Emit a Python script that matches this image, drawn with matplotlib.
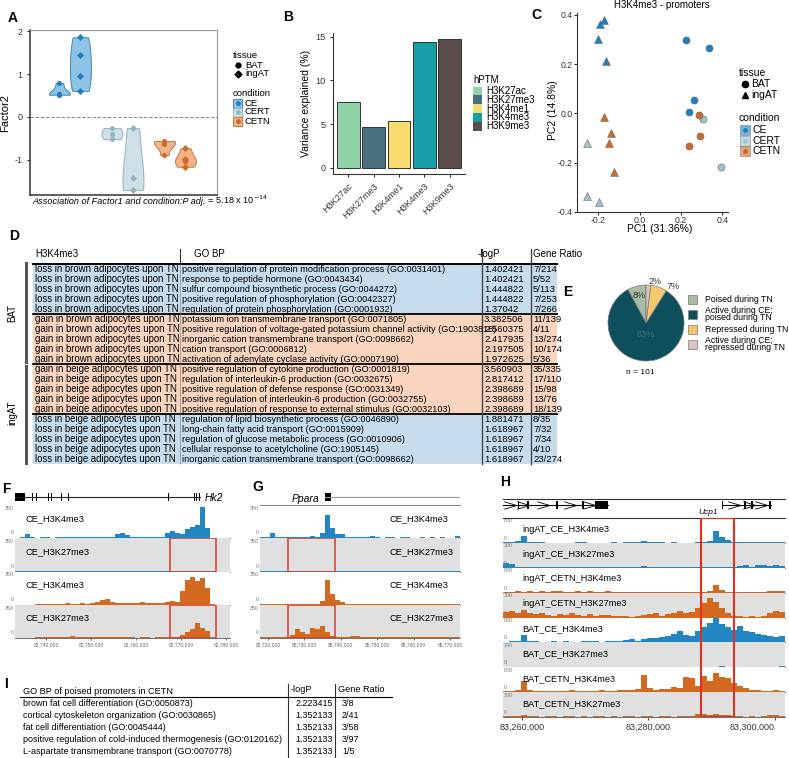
import numpy as np
import matplotlib
matplotlib.use("Agg")
import matplotlib.pyplot as plt
import matplotlib.transforms as mtransforms
from matplotlib.patches import Rectangle
from matplotlib.lines import Line2D

plt.rcParams['font.family'] = ['Liberation Sans', 'DejaVu Sans']
plt.rcParams['axes.unicode_minus'] = False

# ---------------- data ----------------
# A: Factor2 values per tissue / condition
f2_ce_bat = [0.79, 0.54, 0.52, 0.54]
f2_ce_ing = [1.86, 1.45, 0.96, 0.61]
f2_cert_bat = [-0.26, -0.39, -0.52]
f2_cert_ing = [-0.26, -1.43, -1.70]
f2_cetn_bat = [-0.56, -0.60, -0.63, -0.89]
f2_cetn_ing = [-0.73, -0.99, -1.02, -1.16]

# B: variance explained per histone mark
hptm = ['H3K27ac', 'H3K27me3', 'H3K4me1', 'H3K4me3', 'H3K9me3']
var_explained = [7.5, 4.7, 5.3, 14.4, 14.7]
hptm_colors = ['#8fd3a6', '#4b7080', '#f9dc6e', '#179fa7', '#5a4d4c']

# C: PCA of H3K4me3 promoters
pc1_bat_ce = [0.222, 0.334, 0.264, 0.238]
pc2_bat_ce = [0.299, 0.264, 0.054, 0.005]
pc1_bat_cert = [0.307, 0.395]
pc2_bat_cert = [-0.024, -0.220]
pc1_bat_cetn = [0.288, 0.291, 0.240]
pc2_bat_cetn = [-0.007, -0.093, -0.132]
pc1_ing_ce = [-0.175, -0.191, -0.200, -0.163]
pc2_ing_ce = [0.378, 0.365, 0.302, 0.211]
pc1_ing_cert = [-0.256, -0.256, -0.195]
pc2_ing_cert = [-0.120, -0.335, -0.360]
pc1_ing_cetn = [-0.172, -0.138, -0.151, -0.124]
pc2_ing_cetn = [-0.016, -0.079, -0.120, -0.238]

# D: GO table
d_direction = ['loss in brown adipocytes upon TN'] * 5 + ['gain in brown adipocytes upon TN'] * 5 \
    + ['gain in beige adipocytes upon TN'] * 5 + ['loss in beige adipocytes upon TN'] * 5
d_terms = [
    'positive regulation of protein modification process (GO:0031401)',
    'response to peptide hormone (GO:0043434)',
    'sulfur compound biosynthetic process (GO:0044272)',
    'positive regulation of phosphorylation (GO:0042327)',
    'regulation of protein phosphorylation (GO:0001932)',
    'potassium ion transmembrane transport (GO:0071805)',
    'positive regulation of voltage-gated potassium channel activity (GO:1903818)',
    'inorganic cation transmembrane transport (GO:0098662)',
    'cation transport (GO:0006812)',
    'activation of adenylate cyclase activity (GO:0007190)',
    'positive regulation of cytokine production (GO:0001819)',
    'regulation of interleukin-6 production (GO:0032675)',
    'positive regulation of defense response (GO:0031349)',
    'positive regulation of interleukin-6 production (GO:0032755)',
    'positive regulation of response to external stimulus (GO:0032103)',
    'regulation of lipid biosynthetic process (GO:0046890)',
    'long-chain fatty acid transport (GO:0015909)',
    'regulation of glucose metabolic process (GO:0010906)',
    'cellular response to acetylcholine (GO:1905145)',
    'inorganic cation transmembrane transport (GO:0098662)',
]
d_logp = [1.402421, 1.402421, 1.444822, 1.444822, 1.37042,
          3.382506, 2.560375, 2.417935, 2.197505, 1.972625,
          3.560903, 2.817412, 2.398689, 2.398689, 2.398689,
          1.881471, 1.618967, 1.618967, 1.618967, 1.618967]
d_ratio = ['7/214', '5/52', '5/113', '7/253', '7/266',
           '11/139', '4/11', '13/274', '10/174', '5/36',
           '35/335', '17/110', '15/98', '13/76', '18/139',
           '8/35', '7/32', '7/34', '4/10', '23/274']

# E: promoter states
e_labels = ['Poised during TN', 'Active during CE;\npoised during TN',
            'Repressed during TN', 'Active during CE;\nrepressed during TN']
e_counts = [8, 84, 7, 2]
e_colors = ['#a9bda5', '#0e4f5d', '#f6c86e', '#dcc2c2']

# F: Hk2 locus
f_lim = (82733000, 82780800)
f_ticks = [82740000, 82750000, 82760000, 82770000, 82780000]
f_gene = (82733000, 82774200)
f_exons = [(82733000, 82735200), (82735800, 82736000), (82736700, 82736900), (82737600, 82737800),
           (82738900, 82739100), (82740300, 82740500), (82741100, 82741300), (82743300, 82743500),
           (82743800, 82744000), (82744700, 82744900), (82749800, 82750000), (82760700, 82760900),
           (82767000, 82767200), (82772800, 82773100), (82773300, 82773500), (82773800, 82774200)]
f_box = (82767450, 82777670)
f_ce_k4 = [5, 8, 45, 10, 6, 8, 12, 6, 10, 8, 14, 10, 8, 12, 10, 15, 12, 18, 10, 12, 40, 55, 30, 12,
           10, 8, 10, 12, 15, 10, 60, 80, 55, 45, 95, 120, 140, 330, 110, 5, 0, 0, 0]
f_ce_k27 = [10, 6, 8, 5, 10, 6, 8, 5, 6, 8, 5, 6, 5, 8, 5, 6, 10, 5, 6, 5, 8, 5, 6, 5, 4, 6, 5, 4,
            6, 5, 4, 5, 6, 5, 4, 6, 5, 4, 5, 4, 0, 0, 0]
f_cetn_k4 = [0, 0, 0, 0, 10, 12, 8, 10, 12, 10, 15, 12, 10, 15, 12, 18, 30, 55, 60, 25, 20, 18, 22,
             20, 18, 25, 20, 18, 15, 20, 25, 35, 30, 150, 260, 290, 250, 280, 180, 10, 0, 0, 0]
f_cetn_k27 = [0, 0, 0, 0, 8, 10, 6, 12, 8, 10, 6, 25, 10, 8, 12, 6, 10, 8, 6, 8, 10, 6, 8, 6, 5, 8,
              6, 5, 8, 10, 8, 6, 10, 30, 60, 100, 160, 110, 70, 5, 0, 0, 0]

# G: Ppara locus
g_lim = (85717800, 85772750)
g_ticks = [85720000, 85730000, 85740000, 85750000, 85760000, 85770000]
g_ticklabels = ['82,720,000', '85,730,000', '85,740,000', '85,750,000', '85,760,000', '85,770,000']
g_gene = (85735660, 85772750)
g_exons = [(85735660, 85737300)]
g_box = (85725490, 85738400)
g_ce_k4 = [10, 15, 60, 10, 8, 12, 10, 15, 12, 10, 20, 15, 60, 250, 110, 50, 40, 15, 10, 12, 8, 10,
           20, 8, 6, 10, 8, 6, 15, 8, 6, 5, 8, 6, 10, 5, 18, 6, 5, 25]
g_ce_k27 = [6, 5, 6, 5, 4, 6, 5, 4, 6, 8, 5, 6, 5, 4, 6, 5, 4, 6, 5, 4, 6, 5, 4, 5, 6, 4, 5, 6, 4,
            5, 6, 4, 5, 6, 4, 5, 6, 4, 5, 4]
g_cetn_k4 = [8, 10, 6, 5, 6, 5, 8, 6, 5, 6, 8, 10, 40, 265, 110, 45, 30, 10, 6, 5, 4, 5, 6, 8, 5, 4,
             6, 5, 4, 6, 5, 4, 5, 6, 4, 5, 6, 4, 5, 4]
g_cetn_k27 = [10, 12, 8, 10, 6, 12, 30, 90, 60, 40, 110, 100, 130, 60, 20, 10, 8, 12, 25, 20, 15, 8,
              10, 6, 12, 8, 10, 6, 8, 10, 6, 8, 10, 6, 8, 6, 10, 6, 8, 6]

# H: Ucp1 locus
h_lim = (83257000, 83301580)
h_ticks = [83260000, 83280000, 83300000]
h_genes = [(83257000, 83273600), (83291550, 83299350)]
h_exons = [(83259300, 83259500), (83260850, 83261050), (83265450, 83265650), (83269550, 83269750),
           (83271550, 83273600), (83291550, 83291850), (83295150, 83295400), (83296250, 83296500),
           (83299050, 83299350)]
h_box = (83288300, 83293520)
h_names = ['ingAT_CE_H3K4me3', 'ingAT_CE_H3K27me3', 'ingAT_CETN_H3K4me3', 'ingAT_CETN_H3K27me3',
           'BAT_CE_H3K4me3', 'BAT_CE_H3K27me3', 'BAT_CETN_H3K4me3', 'BAT_CETN_H3K27me3']
h1 = [30, 20, 60, 230, 40, 20, 15, 10, 8, 10, 12, 8, 15, 20, 10, 8, 10, 12, 30, 10, 40, 20, 35, 50,
      40, 30, 20, 10, 15, 8, 10, 12, 20, 30, 60, 380, 200, 100, 40, 20, 30, 25, 15, 20, 35, 20, 15]
h2 = [60, 40, 10, 8, 6, 5, 8, 6, 5, 4, 6, 5, 8, 6, 5, 4, 6, 5, 4, 5, 6, 8, 15, 20, 10, 8, 5, 6, 4,
      5, 6, 5, 8, 6, 10, 12, 8, 6, 5, 25, 30, 10, 30, 35, 25, 30, 20]
h3 = [20, 30, 40, 20, 50, 30, 40, 30, 50, 40, 30, 35, 40, 30, 45, 30, 35, 40, 30, 25, 30, 20, 15, 10,
      20, 30, 15, 20, 25, 10, 15, 20, 10, 15, 40, 260, 80, 20, 10, 15, 10, 8, 10, 15, 40, 60, 40]
h4 = [70, 80, 60, 90, 50, 40, 60, 30, 20, 40, 30, 50, 25, 20, 40, 20, 30, 25, 20, 15, 20, 10, 15, 30,
      40, 50, 20, 40, 60, 80, 50, 70, 120, 180, 230, 190, 120, 50, 20, 15, 10, 15, 10, 20, 60, 80, 70]
h5 = [20, 30, 60, 250, 60, 30, 20, 25, 30, 20, 30, 25, 20, 30, 40, 30, 25, 30, 40, 60, 80, 100, 60,
      120, 150, 130, 180, 220, 280, 350, 250, 200, 350, 500, 620, 800, 580, 480, 400, 520, 380, 320,
      280, 230, 200, 160, 220]
h6 = [4, 3, 4, 3, 4, 3, 4, 3, 4, 3, 4, 3, 4, 3, 4, 3, 4, 3, 4, 3, 4, 3, 4, 3, 4, 3, 4, 3, 4, 3, 4, 3,
      4, 3, 8, 6, 10, 8, 6, 4, 3, 4, 3, 4, 3, 8, 15]
h7 = [30, 40, 80, 350, 60, 40, 50, 40, 30, 50, 40, 60, 40, 50, 30, 40, 60, 50, 40, 60, 80, 60, 100,
      550, 120, 80, 100, 90, 150, 120, 500, 450, 200, 520, 350, 600, 480, 450, 300, 200, 120, 80, 60,
      50, 40, 60, 50]
h8 = [10, 15, 8, 20, 10, 8, 6, 10, 8, 6, 8, 10, 6, 8, 6, 8, 10, 6, 8, 6, 8, 10, 6, 8, 10, 6, 8, 10,
      6, 8, 10, 12, 35, 40, 30, 35, 30, 25, 10, 8, 6, 8, 6, 10, 20, 30, 15]

# I: GO table of poised promoters
i_terms = ['brown fat cell differentiation (GO:0050873)',
           'cortical cytoskeleton organization (GO:0030865)',
           'fat cell differentiation (GO:0045444)',
           'positive regulation of cold-induced thermogenesis (GO:0120162)',
           'L-aspartate transmembrane transport (GO:0070778)']
i_logp = [2.223415, 1.352133, 1.352133, 1.352133, 1.352133]
i_ratio = ['3/8', '2/41', '3/58', '3/97', '1/5']

CE_C, CERT_C, CETN_C = '#1f80bf', '#a2c3ca', '#cd6a27'
BLUE, ORANGE, GREY_BG = '#2186c2', '#d2691e', '#e0e0e0'

# ---------------- helpers ----------------
W, H = 789, 758
fig = plt.figure(figsize=(W / 100, H / 100), dpi=100)
PX = mtransforms.Affine2D().scale(1 / W, -1 / H).translate(0, 1) + fig.transFigure


def px_axes(x0, y0, x1, y1):
    return fig.add_axes([x0 / W, 1 - y1 / H, (x1 - x0) / W, (y1 - y0) / H])


def ftext(x, y, s, **kw):
    kw.setdefault('va', 'center')
    return fig.text(x, y, s, transform=PX, **kw)


def fline(xs, ys, **kw):
    fig.add_artist(Line2D(xs, ys, transform=PX, **kw))


def fbox(x, y, w, h, **kw):
    fig.add_artist(Rectangle((x, y), w, h, transform=PX, **kw))


def fmark(x, y, **kw):
    fig.add_artist(Line2D([x], [y], transform=PX, ls='none', **kw))


def track(x0, y0, x1, y1, lim, vals, color, ymax, grey):
    ax = px_axes(x0, y0, x1, y1)
    edges = np.linspace(lim[0], lim[1], len(vals) + 1)
    ax.stairs(vals, edges, fill=True, color=color, lw=0)
    ax.set_xlim(lim)
    ax.set_ylim(0, ymax)
    ax.set_facecolor(GREY_BG if grey else 'white')
    ax.set_xticks([])
    ax.set_yticks([])
    for s in ['top', 'right', 'left']:
        ax.spines[s].set_visible(False)
    ax.spines['bottom'].set_color('#555')
    ax.spines['bottom'].set_linewidth(0.6)
    return ax


for lbl, x, y in [('A', 8, 18), ('B', 283, 17), ('C', 531, 15), ('D', 9, 236), ('E', 563, 292),
                  ('F', 2, 489), ('G', 252, 487), ('H', 500, 482), ('I', 4, 684)]:
    ftext(x, y, lbl, fontsize=10, fontweight='bold')

# ---------------- A ----------------
axA = px_axes(30, 30, 217, 195)
a_sets = [(f2_ce_bat, 0, 'o'), (f2_ce_ing, 0, 'D'), (f2_cert_bat, 1, 'o'),
          (f2_cert_ing, 1, 'D'), (f2_cetn_bat, 2, 'o'), (f2_cetn_ing, 2, 'D')]
v_face = ['#8dc3e6', '#cfe1e7', '#f3b48b']
v_edge = ['#4a86ad', '#8fb2bc', '#c27746']
p_col = [CE_C, '#92b4bc', CETN_C]
for vals, ci, mk in a_sets:
    pos = ci + 1 + (-0.2 if mk == 'o' else 0.2)
    parts = axA.violinplot([vals], positions=[pos], widths=0.4, showextrema=False)
    for b in parts['bodies']:
        b.set_facecolor(v_face[ci])
        b.set_edgecolor(v_edge[ci])
        b.set_linewidth(0.7)
        b.set_alpha(1)
    axA.scatter([pos] * len(vals), vals, marker=mk, s=13, color=p_col[ci], zorder=3, lw=0)
axA.axhline(0, ls='--', color='#888', lw=0.7)
axA.set_xlim(0.24, 3.8)
axA.set_ylim(-1.82, 2.03)
axA.set_xticks([])
axA.set_yticks([-1, 0, 1, 2])
axA.tick_params(axis='y', labelsize=6.5, labelcolor='#333', length=2, width=0.6)
axA.set_ylabel('Factor2', fontsize=8, labelpad=3)
for s in ['left', 'bottom']:
    axA.spines[s].set_color('#333')
    axA.spines[s].set_linewidth(1.1)
for s in ['top', 'right']:
    axA.spines[s].set_color('#999')
    axA.spines[s].set_linewidth(0.8)
cap = ftext(32, 204, 'Association of Factor1 and condition:P adj.', fontsize=6.6, style='italic',
            va='baseline')
axA.annotate(' = 5.18 x 10$^{-14}$', xy=(1, 0.22), xycoords=cap, va='baseline', fontsize=6.6,
             annotation_clip=False)

ftext(233, 55, 'tissue', fontsize=6.8)
for name, mk, y in [('BAT', 'o', 65), ('ingAT', 'D', 74)]:
    fmark(238, y, marker=mk, ms=3.5, color='black')
    ftext(245, y, name, fontsize=6.8)
ftext(233, 93, 'condition', fontsize=6.8)
for ci, (name, y) in enumerate([('CE', 103), ('CERT', 112), ('CETN', 121)]):
    fbox(233.5, y - 4.5, 9, 9, facecolor=v_face[ci], edgecolor=v_edge[ci], lw=0.7)
    fmark(238, y, marker='o', ms=2.5, color=p_col[ci])
    ftext(245, y, name, fontsize=6.8)

# ---------------- B ----------------
axB = px_axes(333, 33, 465, 174)
axB.bar(np.arange(len(hptm)), var_explained, width=0.9, color=hptm_colors, edgecolor='#333', lw=0.7)
axB.set_xlim(-0.6, len(hptm) - 0.4)
axB.set_ylim(-0.7, 15.4)
axB.set_yticks([0, 5, 10, 15])
axB.set_xticks(np.arange(len(hptm)))
axB.set_xticklabels(hptm, rotation=45, ha='right', rotation_mode='anchor')
axB.tick_params(labelsize=6.6, labelcolor='#333', length=2, width=0.6)
axB.spines[['top', 'right']].set_visible(False)
axB.spines[['left', 'bottom']].set_color('#333')
axB.set_ylabel('Variance explained (%)', fontsize=7.5, labelpad=3)
ftext(473, 80, 'hPTM', fontsize=7)
for k, (name, col) in enumerate(zip(hptm, hptm_colors)):
    y = 91 + 8.8 * k
    fbox(473, y - 4.4, 9, 8.8, facecolor=col, edgecolor='none')
    ftext(486, y, name, fontsize=7)

# ---------------- C ----------------
axC = px_axes(577, 13, 728, 212)
c_sets = [(pc1_bat_ce, pc2_bat_ce, 'o', CE_C), (pc1_bat_cert, pc2_bat_cert, 'o', CERT_C),
          (pc1_bat_cetn, pc2_bat_cetn, 'o', CETN_C), (pc1_ing_ce, pc2_ing_ce, '^', CE_C),
          (pc1_ing_cert, pc2_ing_cert, '^', CERT_C), (pc1_ing_cetn, pc2_ing_cetn, '^', CETN_C)]
for xs, ys, mk, col in c_sets:
    axC.scatter(xs, ys, marker=mk, s=32 if mk == '^' else 26, color=col, edgecolor='#666', lw=0.4,
                zorder=3)
axC.set_xlim(-0.304, 0.428)
axC.set_ylim(-0.401, 0.408)
axC.set_xticks([-0.2, 0.0, 0.2, 0.4])
axC.set_xticklabels(['-0.2', '0.0', '0.2', '0.4'])
axC.set_yticks([-0.4, -0.2, 0.0, 0.2, 0.4])
axC.set_yticklabels(['-0.4', '-0.2', '0.0', '0.2', '0.4'])
axC.tick_params(labelsize=6.3, labelcolor='#333', length=2, width=0.6, pad=1.2)
axC.spines[['top', 'right']].set_visible(False)
axC.spines[['left', 'bottom']].set_color('#333')
ftext(662, 5, 'H3K4me3 - promoters', fontsize=7, ha='center')
ftext(660, 229, 'PC1 (31.36%)', fontsize=7.5, ha='center')
ftext(553, 110, 'PC2 (14.8%)', fontsize=7.5, ha='center', rotation=90)
ftext(739, 73, 'tissue', fontsize=7.5)
for name, mk, y in [('BAT', 'o', 84), ('ingAT', '^', 95)]:
    fmark(745, y, marker=mk, ms=4.5, color='black')
    ftext(751, y, name, fontsize=7.5)
ftext(739, 118, 'condition', fontsize=7.5)
for name, col, y in [('CE', CE_C, 130), ('CERT', CERT_C, 141), ('CETN', CETN_C, 151)]:
    fbox(740.5, y - 5, 10, 10, facecolor=col, edgecolor='#777', lw=0.6, alpha=0.6)
    fmark(745.5, y, marker='o', ms=2.5, color=col)
    ftext(753, y, name, fontsize=7.5)

# ---------------- D ----------------
D_BLUE, D_ORANGE = '#c7ddee', '#f9d5bf'
ftext(35, 254, 'H3K4me3', fontsize=7)
ftext(194, 254, 'GO BP', fontsize=7)
ftext(478, 254, '-logP', fontsize=7)
ftext(533, 254, 'Gene Ratio', fontsize=7)
for i, (dr, term, lp, gr) in enumerate(zip(d_direction, d_terms, d_logp, d_ratio)):
    y = 269 + 10 * i
    fbox(33, y - 5, 524, 10, facecolor=D_BLUE if dr.startswith('loss') else D_ORANGE,
         edgecolor='none', zorder=0)
    ftext(35, y, dr, fontsize=6.9)
    ftext(182, y, term, fontsize=6.6)
    ftext(484, y, str(lp), fontsize=6.8)
    ftext(533, y, gr, fontsize=6.8)
fline([33, 557], [263.5, 263.5], color='black', lw=1.4)
for k in (5, 10, 15):
    yb = 264 + 10 * k
    fline([33, 557], [yb, yb], color='black', lw=1.3)
fline([180, 180], [249, 264], color='#333', lw=0.8)
fline([180, 180], [264, 464], color='#777', lw=0.4)
for xv in (482, 531):
    fline([xv, xv], [249, 464], color='#444', lw=1.0)
fline([26, 26], [263, 362], color='#555', lw=2.2)
fline([26, 26], [366, 463], color='#555', lw=2.2)
ftext(12, 313, 'BAT', fontsize=7, rotation=90, ha='center')
ftext(12, 413, 'ingAT', fontsize=7, rotation=90, ha='center')

# ---------------- E ----------------
axE = px_axes(608, 285, 684, 361)
axE.pie(e_counts, colors=e_colors, startangle=90, counterclock=True,
        wedgeprops=dict(edgecolor='#777', lw=0.5))
axE.set_xlim(-1, 1)
axE.set_ylim(-1, 1)
axE.set_aspect('equal')
axE.axis('off')
total = sum(e_counts)
start = 90.0
for c, frac, dist, ha, col in zip(e_counts, [0.5, 0.5, 0.12, 0.5], [0.74, 0.3, 1.1, 1.1],
                                  ['center', 'center', 'left', 'left'],
                                  ['#333', '#3f7480', '#333', '#333']):
    span = 360.0 * c / total
    ang = np.deg2rad(start + span * frac)
    axE.text(dist * np.cos(ang), dist * np.sin(ang), f'{round(100 * c / total)}%', ha=ha,
             va='center', fontsize=6.5, color=col)
    start += span
ftext(640, 372, 'n = 101', fontsize=6, ha='center')
for lbl, col, y in zip(e_labels, e_colors, [299, 314, 329, 344]):
    fbox(688.5, y - 4.5, 9, 9, facecolor=col, edgecolor='#888', lw=0.6)
    ftext(705, y, lbl, fontsize=6.3, linespacing=0.85)

# ---------------- F / G ----------------
row_edges = [505, 538.25, 571.5, 604.75, 638]
track_names = ['CE_H3K4me3', 'CE_H3K27me3', 'CE_H3K4me3', 'CE_H3K27me3']
track_cols = [BLUE, BLUE, ORANGE, ORANGE]


def locus(x0, x1, lim, signals, box, name_x, gene, exons, gene_name, name_side):
    axes = []
    for k, vals in enumerate(signals):
        ax = track(x0, row_edges[k], x1, row_edges[k + 1], lim, vals, track_cols[k], 350, k % 2 == 1)
        ax.text(name_x, 0.6, track_names[k], transform=ax.transAxes, fontsize=6.7, va='center')
        ax.text(-0.005, 0.9, '350', transform=ax.transAxes, fontsize=3.8, color='#777',
                ha='right', va='center')
        ax.text(-0.005, 0.16, '0', transform=ax.transAxes, fontsize=3.8, color='#777',
                ha='right', va='center')
        if k % 2 == 1:
            ax.axvspan(box[0], box[1], fill=False, edgecolor='#d8382c', lw=1.1)
        axes.append(ax)
    axg = px_axes(x0, 491, x1, 503)
    axg.set_xlim(lim)
    axg.set_ylim(0, 1)
    axg.axis('off')
    axg.plot(gene, [0.5, 0.5], color='#222' if name_side == 'right' else '#999', lw=0.8)
    for e0, e1 in exons:
        axg.add_patch(Rectangle((e0, 0.15), e1 - e0, 0.7, color='black', lw=0))
    if name_side == 'right':
        axg.text(gene[1] + 0.02 * (lim[1] - lim[0]), 0.45, gene_name, style='italic', fontsize=7.5,
                 va='center', clip_on=False)
    else:
        axg.text(gene[0] - 0.03 * (lim[1] - lim[0]), 0.3, gene_name, style='italic',
                 fontsize=7.5, va='center', ha='right', clip_on=False)
    return axes


f_axes = locus(15, 230, f_lim, [f_ce_k4, f_ce_k27, f_cetn_k4, f_cetn_k27], f_box, 0.047,
               f_gene, f_exons, 'Hk2', 'right')
f_axes[-1].set_xticks(f_ticks)
f_axes[-1].set_xticklabels([f'{t:,}' for t in f_ticks])
f_axes[-1].tick_params(labelsize=3.6, labelcolor='#666', length=1.5, width=0.4, pad=1.5)

g_axes = locus(260, 460, g_lim, [g_ce_k4, g_ce_k27, g_cetn_k4, g_cetn_k27], g_box, 0.65,
               g_gene, g_exons, 'Ppara', 'left')
g_axes[0].spines['top'].set_visible(True)
g_axes[0].spines['top'].set_color('#888')
g_axes[-1].set_xticks(g_ticks)
g_axes[-1].set_xticklabels(g_ticklabels)
g_axes[-1].tick_params(labelsize=3.6, labelcolor='#666', length=1.5, width=0.4, pad=1.5)

# ---------------- H ----------------
h_signals = [h1, h2, h3, h4, h5, h6, h7, h8]
h_top, h_bot = 518, 717
h_step = (h_bot - h_top) / len(h_signals)
h_axes = []
for k, (name, vals) in enumerate(zip(h_names, h_signals)):
    k27 = 'K27' in name
    col = ORANGE if 'CETN' in name else BLUE
    ymax = 300 if k27 else 800
    ax = track(503, h_top + k * h_step, 785, h_top + (k + 1) * h_step, h_lim, vals, col, ymax, k27)
    ax.text(0.07, 0.55, name, transform=ax.transAxes, fontsize=6.6, va='center')
    ax.text(0.004, 0.88, str(ymax), transform=ax.transAxes, fontsize=3.8, color='#777', va='center')
    ax.text(0.004, 0.18, '0', transform=ax.transAxes, fontsize=3.8, color='#777', va='center')
    h_axes.append(ax)
h_axes[-1].set_xticks(h_ticks)
h_axes[-1].set_xticklabels([f'{t:,}' for t in h_ticks])
h_axes[-1].tick_params(labelsize=6.5, labelcolor='#333', length=2, width=0.5, pad=2)
h_axes[-1].get_xticklabels()[-1].set_ha('right')

axHg = px_axes(503, 499, 785, 518)
axHg.set_xlim(h_lim)
axHg.set_ylim(0, 1)
axHg.set_xticks([])
axHg.set_yticks([])
axHg.spines[['left', 'right']].set_visible(False)
axHg.spines[['top', 'bottom']].set_color('#333')
axHg.spines[['top', 'bottom']].set_linewidth(0.8)
chevron = [(-1, 0.6), (1, 0), (-1, -0.6)]
for g0, g1 in h_genes:
    axHg.plot([g0, g1], [0.66, 0.66], color='black', lw=0.8)
    inside = sorted(e for e in h_exons if g0 <= e[0] <= g1)
    prev = g0
    for e0, e1 in inside:
        if e0 > prev:
            axHg.plot([(prev + e0) / 2], [0.66], marker=chevron, ms=9, mfc='none', mec='black',
                      mew=0.6, ls='none')
        prev = e1
for e0, e1 in h_exons:
    axHg.add_patch(Rectangle((e0, 0.45), e1 - e0, 0.42, color='black', lw=0))
axHg.text(83289400, 0.3, 'Ucp1', style='italic', fontsize=6, ha='center', va='center')

axHb = px_axes(503, h_top, 785, h_bot)
axHb.set_xlim(h_lim)
axHb.set_ylim(0, 1)
axHb.axis('off')
axHb.axvspan(h_box[0], h_box[1], fill=False, edgecolor='#e0301e', lw=1.5)

# ---------------- I ----------------
ftext(23, 691, 'GO BP of poised promoters in CETN', fontsize=6.6)
ftext(291, 690, '-logP', fontsize=6.6)
ftext(338, 690, 'Gene Ratio', fontsize=6.6)
fline([20, 392], [697, 697], color='black', lw=0.8)
for xv in (288, 335):
    fline([xv, xv], [684, 758], color='#333', lw=0.8)
for i, (term, lp, gr) in enumerate(zip(i_terms, i_logp, i_ratio)):
    y = 704 + 12 * i
    ftext(23, y, term, fontsize=6.5)
    ftext(333, y, str(lp), fontsize=6.5, ha='right')
    ftext(342, y, gr, fontsize=6.5)

fig.savefig('out.png', dpi=100)
